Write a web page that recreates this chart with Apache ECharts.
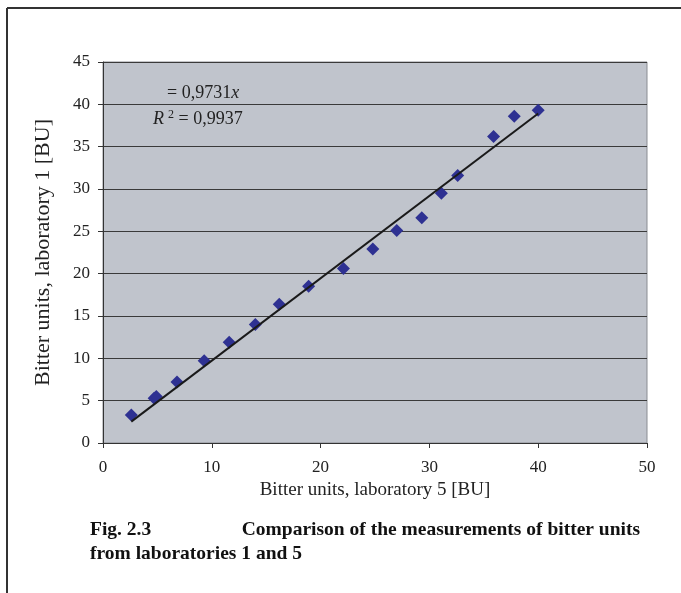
<!DOCTYPE html>
<html>
<head>
<meta charset="utf-8">
<script src="https://cdn.jsdelivr.net/npm/echarts@6/dist/echarts.min.js"></script>
<style>
  html, body { margin: 0; padding: 0; background: #fff; }
  #chart { width: 681px; height: 593px; }
</style>
</head>
<body>
<div id="chart"></div>
<script>
// laboratory 5 (x) vs laboratory 1 (y), bitter units
const lab5 = [2.6, 4.7, 4.9, 6.8, 9.3, 11.6, 14.0, 16.2, 18.9, 22.1, 24.8, 27.0, 29.3, 31.1, 32.6, 35.9, 37.8, 40.0]
const lab1 = [3.3, 5.3, 5.5, 7.2, 9.7, 11.9, 14.0, 16.4, 18.5, 20.6, 22.9, 25.1, 26.6, 29.5, 31.6, 36.2, 38.6, 39.3]

// trend line y = 0.9731x, drawn between the first and last measurement
const trendX = [2.6, 40.0]
const trendY = [2.53, 38.92]

const xTicks = [0, 10, 20, 30, 40, 50]
const yTicks = [0, 5, 10, 15, 20, 25, 30, 35, 40, 45]

const serif = '"Liberation Serif", "DejaVu Serif", serif'

let chart = echarts.init(document.getElementById('chart'))

chart.setOption({
    backgroundColor: '#fff',
    animation: false,
    grid: {
        left: 103,
        right: 34,
        top: 62,
        bottom: 150,
        show: true,
        backgroundColor: '#c0c4cc',
        borderColor: '#8a8d93',
        borderWidth: 1
    },
    xAxis: {
        type: 'value',
        min: xTicks[0],
        max: xTicks[xTicks.length - 1],
        interval: 10,
        name: 'Bitter units, laboratory 5 [BU]',
        nameLocation: 'middle',
        nameGap: 35,
        nameTextStyle: { fontFamily: serif, fontSize: 19, color: '#222' },
        axisLine: { show: true, lineStyle: { color: '#333', width: 1 } },
        axisTick: { show: true, inside: false, length: 5, lineStyle: { color: '#333' } },
        axisLabel: { fontFamily: serif, fontSize: 17, color: '#222', margin: 16 },
        splitLine: { show: false }
    },
    yAxis: {
        type: 'value',
        min: yTicks[0],
        max: yTicks[yTicks.length - 1],
        interval: 5,
        name: 'Bitter units, laboratory 1 [BU]',
        nameLocation: 'middle',
        nameGap: 49,
        nameTextStyle: { fontFamily: serif, fontSize: 22, color: '#222' },
        axisLine: { show: true, lineStyle: { color: '#333', width: 1 } },
        axisTick: { show: true, inside: false, length: 5, lineStyle: { color: '#333' } },
        axisLabel: { fontFamily: serif, fontSize: 17, color: '#222', margin: 13 },
        splitLine: { show: true, lineStyle: { color: '#3a3a3a', width: 1 } }
    },
    series: [
        {
            type: 'line',
            data: trendX.map((x, i) => [x, trendY[i]]),
            symbol: 'none',
            lineStyle: { color: '#1a1a1a', width: 2 },
            z: 3
        },
        {
            type: 'scatter',
            data: lab5.map((x, i) => [x, lab1[i]]),
            symbol: 'diamond',
            symbolSize: [13, 13],
            itemStyle: { color: '#2e3192', opacity: 1 },
            z: 2
        }
    ],
    graphic: [
        { type: 'line', shape: { x1: 7, y1: 8, x2: 7, y2: 593 }, style: { stroke: '#333', lineWidth: 2 } },
        { type: 'line', shape: { x1: 7, y1: 8, x2: 681, y2: 8 }, style: { stroke: '#333', lineWidth: 2 } },
        {
            type: 'text', left: 167, top: 84,
            style: {
                text: '= 0,9731{i|x}',
                font: '18px ' + serif,
                fill: '#222',
                rich: { i: { fontStyle: 'italic', fontFamily: serif, fontSize: 18, fill: '#222' } }
            }
        },
        {
            type: 'text', left: 153, top: 109,
            style: {
                text: '{i|R}{s|2} = 0,9937',
                font: '18px ' + serif,
                fill: '#222',
                rich: {
                    i: { fontStyle: 'italic', fontFamily: serif, fontSize: 18, fill: '#222' },
                    s: { fontFamily: serif, fontSize: 12, fill: '#222', verticalAlign: 'top', padding: [0, 0, 9, 4] }
                }
            }
        },
        {
            type: 'text', left: 90, top: 520,
            style: { text: 'Fig. 2.3', font: 'bold 19.5px ' + serif, fill: '#111' }
        },
        {
            type: 'text', right: 41, top: 520,
            style: { text: 'Comparison of the measurements of bitter units', font: 'bold 19.5px ' + serif, fill: '#111' }
        },
        {
            type: 'text', left: 90, top: 544,
            style: { text: 'from laboratories 1 and 5', font: 'bold 19.5px ' + serif, fill: '#111' }
        }
    ]
})
</script>
</body>
</html>
